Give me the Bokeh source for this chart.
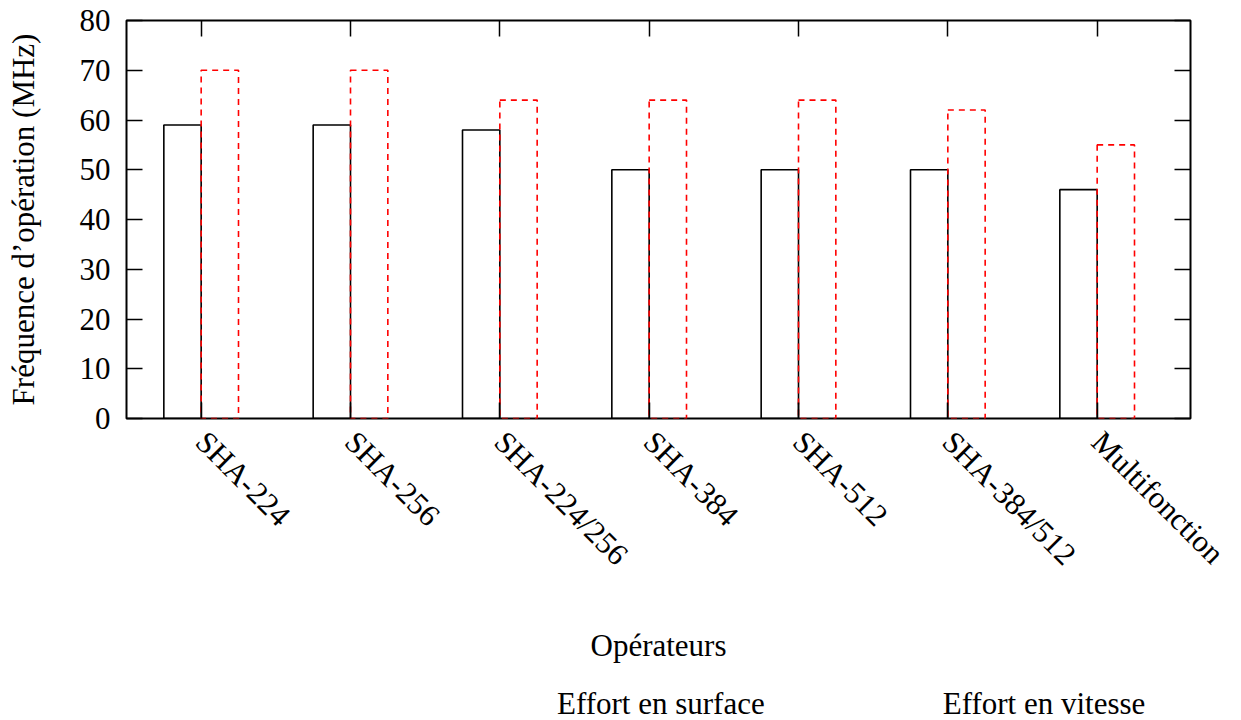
import math
from bokeh.plotting import figure
from bokeh.layouts import column
from bokeh.models import (Range1d, FixedTicker, LinearAxis, Legend, LegendItem)
from bokeh.embed import file_html
from bokeh.resources import INLINE

categories = ["SHA-224", "SHA-256", "SHA-224/256", "SHA-384", "SHA-512", "SHA-384/512", "Multifonction"]
surface = [59, 59, 58, 50, 50, 50, 46]
vitesse = [70, 70, 64, 64, 64, 62, 55]
y_ticks = [0, 10, 20, 30, 40, 50, 60, 70, 80]
series_names = ["Effort en surface", "Effort en vitesse"]

FONT = "Liberation Serif"
FS = "31px"

idx = list(range(len(categories)))
x_surf = [i - 0.125 for i in idx]
x_vit = [i + 0.125 for i in idx]

p = figure(frame_width=1064, frame_height=398, output_backend="svg", toolbar_location=None,
           x_range=Range1d(-0.5, 6.625), y_range=Range1d(0, 80),
           min_border_left=126, min_border_right=51, min_border_top=20, min_border_bottom=0)

p.vbar(x=x_surf, top=surface, width=0.25, bottom=0, fill_color=None,
       line_color="black", line_width=1.6)
p.vbar(x=x_vit, top=vitesse, width=0.25, bottom=0, fill_color=None,
       line_color="#ff0000", line_width=1.6, line_dash="6 5")

p.xgrid.visible = False
p.ygrid.visible = False
p.outline_line_color = "black"
p.outline_line_width = 2

def style_axis(ax):
    ax.axis_line_color = None
    ax.major_tick_in = 16
    ax.major_tick_out = 0
    ax.major_tick_line_width = 1.5
    ax.major_tick_line_color = "black"
    ax.minor_tick_line_color = None
    ax.major_label_text_font = FONT
    ax.major_label_text_font_size = FS
    ax.major_label_text_color = "black"
    ax.axis_label_text_font = FONT
    ax.axis_label_text_font_size = FS
    ax.axis_label_text_font_style = "normal"
    ax.axis_label_text_color = "black"

# bottom axis
xa = p.xaxis[0]
style_axis(xa)
xa.ticker = FixedTicker(ticks=idx)
xa.major_label_overrides = {i: c for i, c in zip(idx, categories)}
xa.major_label_orientation = -math.pi / 4
xa.major_label_standoff = 18
xa.axis_label = "Opérateurs"
xa.axis_label_standoff = 41

# left axis
ya = p.yaxis[0]
style_axis(ya)
ya.ticker = FixedTicker(ticks=y_ticks)
ya.major_label_standoff = 16
ya.axis_label = "Fréquence d’opération (MHz)"
ya.axis_label_standoff = 36

# mirrored axes
top = LinearAxis(ticker=FixedTicker(ticks=idx))
style_axis(top)
top.major_label_text_font_size = "0px"
top.major_label_text_color = None
p.add_layout(top, "above")

right = LinearAxis(ticker=FixedTicker(ticks=y_ticks))
style_axis(right)
right.major_label_text_font_size = "0px"
right.major_label_text_color = None
p.add_layout(right, "right")

# legend in its own strip below the chart
lf = figure(width=1241, height=76, output_backend="svg", toolbar_location=None,
            x_axis_type=None, y_axis_type=None,
            x_range=Range1d(0, 1), y_range=Range1d(0, 1), min_border=0)
lf.outline_line_color = None
d1 = lf.vbar(x=[], top=[], width=0.25, bottom=0, fill_color=None,
             line_color="black", line_width=1.6)
d2 = lf.vbar(x=[], top=[], width=0.25, bottom=0, fill_color=None,
             line_color="#ff0000", line_width=1.6, line_dash="6 5")

legend = Legend(items=[LegendItem(label=series_names[0], renderers=[d1]),
                       LegendItem(label=series_names[1], renderers=[d2])],
                orientation="horizontal", location=(333, 20),
                label_text_font=FONT, label_text_font_size=FS, label_text_color="black",
                glyph_width=83, glyph_height=17, spacing=80, label_standoff=15,
                border_line_color=None, background_fill_color=None, background_fill_alpha=0,
                margin=0, padding=0)
lf.add_layout(legend)

layout = column(p, lf, spacing=0)
open("out.html", "w").write(file_html(layout, INLINE))
